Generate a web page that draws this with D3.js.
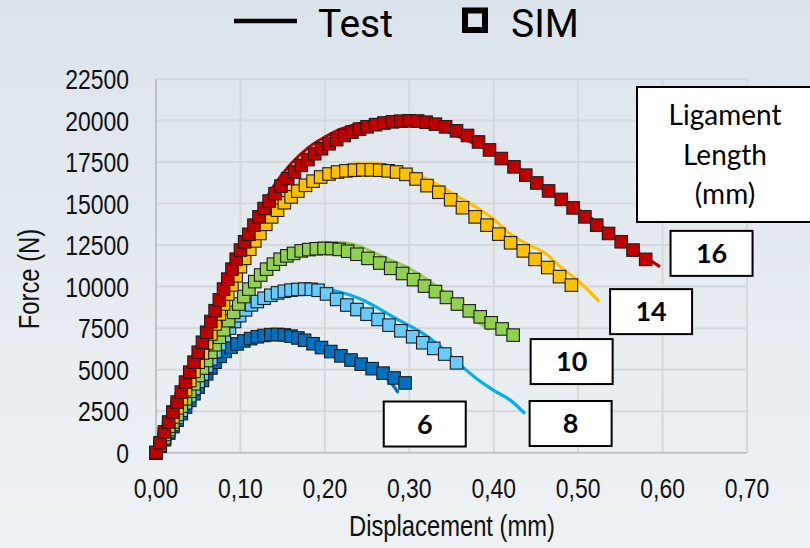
<!DOCTYPE html>
<html>
<head>
<meta charset="utf-8">
<script src="https://cdn.jsdelivr.net/npm/d3@7"></script>
<style>
  body { margin: 0; }
  svg { display: block; }
  .tick-label { font-family: 'Liberation Sans', Arial, sans-serif; font-size: 28px; fill: #111; }
  .axis-title { font-family: 'Liberation Sans', Arial, sans-serif; font-size: 29px; fill: #111; }
</style>
</head>
<body>
<div id="chart"></div>
<script>
// ticks
var xTicks = [0, 0.1, 0.2, 0.3, 0.4, 0.5, 0.6, 0.7];
var yTicks = [0, 2500, 5000, 7500, 10000, 12500, 15000, 17500, 20000, 22500];

// ligament lengths (mm), one entry per curve pair
var ligaments = ['6', '8', '10', '14', '16'];

// Test curves: [displacement (mm), force (N)]
var test6 = [[0,0],[0.02,1500],[0.04,3050],[0.06,4550],[0.08,5750],[0.10,6500],[0.12,6950],[0.14,7150],[0.16,7050],[0.18,6700],[0.20,6250],[0.22,5800],[0.24,5350],[0.26,4950],[0.27,4650],[0.28,4100],[0.287,3600]];
var test8 = [[0,0],[0.02,1700],[0.04,3450],[0.06,5100],[0.08,6700],[0.10,8000],[0.12,8950],[0.14,9500],[0.16,9800],[0.18,9900],[0.20,9850],[0.22,9650],[0.24,9300],[0.26,8800],[0.28,8200],[0.30,7650],[0.32,7050],[0.34,6250],[0.36,5300],[0.38,4450],[0.40,3750],[0.42,3150],[0.437,2350]];
var test10 = [[0,0],[0.02,1950],[0.04,3800],[0.06,5700],[0.08,7500],[0.10,9100],[0.12,10400],[0.14,11350],[0.16,12000],[0.18,12450],[0.20,12650],[0.22,12650],[0.24,12450],[0.26,12000],[0.28,11550],[0.30,11100],[0.32,10450],[0.34,9750],[0.36,8900],[0.38,7950],[0.395,7400]];
var test14 = [[0,0],[0.02,2250],[0.04,4600],[0.06,6950],[0.08,9200],[0.10,11400],[0.12,13400],[0.14,15000],[0.16,15900],[0.18,16500],[0.20,16950],[0.22,17250],[0.24,17400],[0.26,17400],[0.28,17250],[0.30,16950],[0.32,16500],[0.34,15950],[0.36,15350],[0.38,14750],[0.40,14050],[0.42,13150],[0.44,12550],[0.46,12050],[0.48,11150],[0.50,10350],[0.525,9100]];
var test16 = [[0,0],[0.02,2450],[0.04,4900],[0.06,7350],[0.08,9800],[0.10,12150],[0.12,14300],[0.14,16100],[0.16,17400],[0.18,18350],[0.20,19000],[0.22,19500],[0.24,19800],[0.26,20000],[0.28,20080],[0.30,20050],[0.32,19850],[0.34,19450],[0.36,19000],[0.38,18550],[0.40,18050],[0.42,17400],[0.44,16700],[0.46,15950],[0.48,15300],[0.50,14650],[0.52,13950],[0.54,13150],[0.56,12350],[0.58,11750],[0.597,11200]];

// SIM curves: [displacement (mm), force (N)]
var sim6 = [[0,0],[0.005,390],[0.010,780],[0.015,1180],[0.020,1570],[0.025,1960],[0.030,2350],[0.035,2750],[0.040,3150],[0.045,3550],[0.050,3950],[0.055,4350],[0.060,4750],[0.065,5100],[0.070,5450],[0.076,5800],[0.082,6100],[0.089,6350],[0.096,6550],[0.104,6730],[0.112,6870],[0.120,6980],[0.128,7060],[0.136,7110],[0.144,7120],[0.152,7090],[0.160,7020],[0.168,6910],[0.176,6770],[0.186,6560],[0.196,6330],[0.207,6090],[0.219,5830],[0.231,5580],[0.243,5330],[0.256,5060],[0.269,4790],[0.282,4500],[0.295,4200]];
var sim8 = [[0,0],[0.005,420],[0.010,850],[0.015,1280],[0.020,1700],[0.025,2130],[0.030,2560],[0.035,3000],[0.040,3430],[0.045,3870],[0.050,4300],[0.055,4750],[0.060,5200],[0.065,5650],[0.070,6100],[0.075,6550],[0.081,7050],[0.087,7500],[0.093,7900],[0.099,8250],[0.106,8600],[0.113,8900],[0.120,9100],[0.128,9300],[0.136,9480],[0.144,9620],[0.152,9720],[0.160,9790],[0.168,9830],[0.176,9850],[0.184,9840],[0.192,9780],[0.202,9560],[0.214,9230],[0.226,8890],[0.238,8620],[0.250,8340],[0.263,8020],[0.276,7680],[0.290,7340],[0.304,6980],[0.316,6620],[0.329,6280],[0.342,5940],[0.356,5410]];
var sim10 = [[0,0],[0.005,450],[0.010,900],[0.015,1400],[0.020,1850],[0.025,2300],[0.030,2800],[0.035,3250],[0.040,3700],[0.045,4150],[0.050,4650],[0.055,5100],[0.060,5550],[0.065,6050],[0.070,6500],[0.075,6950],[0.080,7400],[0.086,7950],[0.092,8450],[0.098,8950],[0.104,9400],[0.110,9850],[0.117,10300],[0.124,10700],[0.131,11050],[0.139,11350],[0.147,11650],[0.155,11850],[0.163,12000],[0.172,12150],[0.181,12230],[0.190,12280],[0.199,12300],[0.208,12290],[0.217,12240],[0.227,12130],[0.238,11950],[0.251,11700],[0.265,11420],[0.278,11100],[0.292,10790],[0.305,10420],[0.318,10030],[0.331,9700],[0.344,9350],[0.357,8950],[0.371,8540],[0.384,8180],[0.397,7820],[0.410,7450],[0.423,7080]];
var sim14 = [[0,0],[0.005,550],[0.010,1100],[0.015,1600],[0.020,2150],[0.025,2700],[0.030,3250],[0.035,3800],[0.040,4350],[0.045,4900],[0.050,5450],[0.055,6000],[0.060,6600],[0.065,7150],[0.070,7750],[0.075,8350],[0.080,8950],[0.085,9550],[0.090,10100],[0.095,10650],[0.100,11200],[0.105,11700],[0.111,12250],[0.117,12750],[0.123,13200],[0.130,13750],[0.137,14200],[0.144,14600],[0.152,15050],[0.160,15400],[0.168,15750],[0.177,16100],[0.186,16350],[0.195,16600],[0.205,16780],[0.215,16900],[0.225,16970],[0.235,17010],[0.245,17030],[0.255,17030],[0.265,17010],[0.275,16970],[0.285,16900],[0.296,16760],[0.308,16480],[0.321,16080],[0.335,15680],[0.349,15230],[0.363,14750],[0.378,14200],[0.392,13700],[0.406,13160],[0.420,12640],[0.435,12150],[0.449,11640],[0.464,11150],[0.478,10600],[0.492,10090]];
var sim16 = [[0,0],[0.005,600],[0.010,1250],[0.015,1850],[0.020,2450],[0.025,3050],[0.030,3650],[0.035,4250],[0.040,4850],[0.045,5450],[0.050,6050],[0.055,6650],[0.060,7250],[0.065,7900],[0.070,8550],[0.075,9200],[0.080,9850],[0.085,10450],[0.090,11050],[0.095,11650],[0.100,12200],[0.105,12700],[0.110,13150],[0.116,13700],[0.122,14200],[0.128,14700],[0.134,15150],[0.141,15600],[0.148,16050],[0.156,16500],[0.164,16900],[0.172,17300],[0.180,17650],[0.188,18000],[0.196,18300],[0.205,18600],[0.214,18850],[0.223,19100],[0.232,19300],[0.241,19480],[0.250,19620],[0.260,19750],[0.270,19850],[0.280,19920],[0.290,19960],[0.300,19980],[0.310,19970],[0.320,19900],[0.331,19780],[0.343,19620],[0.356,19380],[0.369,19100],[0.382,18710],[0.395,18230],[0.409,17710],[0.424,17210],[0.438,16710],[0.451,16240],[0.465,15760],[0.480,15250],[0.494,14740],[0.508,14200],[0.522,13700],[0.536,13200],[0.551,12700],[0.565,12200],[0.580,11640]];

// label box anchors [displacement, force] for each ligament tag
var tagAnchors = [[0.3183,1727],[0.4911,1757],[0.4923,5487],[0.5864,8494],[0.6580,12001]];

var testData = [test6, test8, test10, test14, test16];
var simData = [sim6, sim8, sim10, sim14, sim16];
var lineColors = ['#0070C0', '#00B0F0', '#92D050', '#FFC000', '#C00000'];
var markColors = ['#0070C0', '#66CCFF', '#92D050', '#FFC000', '#C00000'];

var width = 810;
var height = 548;
var margin = { left: 156, right: 63, top: 79, bottom: 95 };
var narrow = 0.82; // the source uses a condensed face

var svg = d3.select('#chart')
    .append('svg')
    .attr('width', width)
    .attr('height', height);

// background
var defs = svg.append('defs');
var grad = defs.append('linearGradient')
    .attr('id', 'bg')
    .attr('x1', 0).attr('y1', 0).attr('x2', 0).attr('y2', 1);
grad.append('stop').attr('offset', '0%').attr('stop-color', '#dbe4eb');
grad.append('stop').attr('offset', '100%').attr('stop-color', '#eef2f5');

svg.append('rect')
    .attr('width', width)
    .attr('height', height)
    .attr('fill', 'url(#bg)');

var x = d3.scaleLinear()
    .domain([0, 0.7])
    .range([margin.left, width - margin.right]);

var y = d3.scaleLinear()
    .domain([0, 22500])
    .range([height - margin.bottom - 0.3, margin.top]);

var fmt = d3.formatLocale({ decimal: ',', thousands: '.', grouping: [3], currency: ['', ''] }).format('.2f');

// gridlines
svg.append('g').selectAll('line')
    .data(xTicks.slice(1))
    .enter()
    .append('line')
    .attr('x1', function(d) { return x(d); })
    .attr('x2', function(d) { return x(d); })
    .attr('y1', y(0))
    .attr('y2', y(22500))
    .attr('stroke', '#d5d8db')
    .attr('stroke-width', 2);

svg.append('g').selectAll('line')
    .data(yTicks.slice(1))
    .enter()
    .append('line')
    .attr('x1', x(0))
    .attr('x2', x(0.7))
    .attr('y1', function(d) { return y(d); })
    .attr('y2', function(d) { return y(d); })
    .attr('stroke', '#d5d8db')
    .attr('stroke-width', 2);

// axis lines
svg.append('line')
    .attr('x1', x(0)).attr('x2', x(0))
    .attr('y1', y(0)).attr('y2', y(22500))
    .attr('stroke', '#bfc3c6').attr('stroke-width', 2);
svg.append('line')
    .attr('x1', x(0)).attr('x2', x(0.7))
    .attr('y1', y(0)).attr('y2', y(0))
    .attr('stroke', '#bfc3c6').attr('stroke-width', 2);

// tick labels (squeezed horizontally)
svg.append('g').selectAll('text')
    .data(yTicks)
    .enter()
    .append('text')
    .attr('class', 'tick-label')
    .attr('transform', function(d) {
        return 'translate(' + (x(0) - 27) + ',' + y(d) + ') scale(' + narrow + ',1)';
    })
    .attr('dy', '0.36em')
    .attr('text-anchor', 'end')
    .text(function(d) { return d; });

svg.append('g').selectAll('text')
    .data(xTicks)
    .enter()
    .append('text')
    .attr('class', 'tick-label')
    .attr('transform', function(d) {
        return 'translate(' + x(d) + ',' + (y(0) + 45) + ') scale(' + narrow + ',1)';
    })
    .attr('text-anchor', 'middle')
    .text(function(d) { return fmt(d); });

// axis titles
svg.append('text')
    .attr('class', 'axis-title')
    .attr('transform', 'translate(39,279) rotate(-90) scale(' + narrow + ',1)')
    .attr('text-anchor', 'middle')
    .text('Force (N)');

svg.append('text')
    .attr('class', 'axis-title')
    .attr('transform', 'translate(452,536) scale(' + narrow + ',1)')
    .attr('text-anchor', 'middle')
    .text('Displacement (mm)');

// test curves (lines) first, then SIM markers on top
var line = d3.line()
    .x(function(d) { return x(d[0]); })
    .y(function(d) { return y(d[1]); })
    .curve(d3.curveMonotoneX);

svg.append('g').selectAll('path')
    .data(testData)
    .enter()
    .append('path')
    .attr('d', line)
    .attr('fill', 'none')
    .attr('stroke', function(d, i) { return lineColors[i]; })
    .attr('stroke-width', 3.2)
    .attr('stroke-linejoin', 'round');

var sq = 12.5;
simData.forEach(function(series, i) {
    svg.append('g').selectAll('rect')
        .data(series)
        .enter()
        .append('rect')
        .attr('x', function(d) { return x(d[0]) - sq / 2; })
        .attr('y', function(d) { return y(d[1]) - sq / 2; })
        .attr('width', sq)
        .attr('height', sq)
        .attr('fill', markColors[i])
        .attr('stroke', '#1b1b1b')
        .attr('stroke-width', 1.1);
});

// ligament tags
var tags = svg.append('g').selectAll('g')
    .data(ligaments)
    .enter()
    .append('g')
    .attr('transform', function(d, i) {
        return 'translate(' + x(tagAnchors[i][0]) + ',' + y(tagAnchors[i][1]) + ')';
    });

tags.append('rect')
    .attr('x', -41).attr('y', -22.5)
    .attr('width', 82).attr('height', 45)
    .attr('fill', '#fff')
    .attr('stroke', '#000')
    .attr('stroke-width', 2);

tags.append('text')
    .attr('text-anchor', 'middle')
    .attr('dy', '0.36em')
    .style('font-family', 'Lato, sans-serif')
    .style('font-weight', 'bold')
    .style('font-size', '27px')
    .text(function(d) { return d; });

// "Ligament Length (mm)" box
svg.append('rect')
    .attr('x', 637).attr('y', 87)
    .attr('width', 180).attr('height', 135)
    .attr('fill', '#fff')
    .attr('stroke', '#000')
    .attr('stroke-width', 2);

svg.append('g').selectAll('text')
    .data(['Ligament', 'Length', '(mm)'])
    .enter()
    .append('text')
    .attr('x', 725)
    .attr('y', function(d, i) { return 125 + i * 39.5; })
    .attr('text-anchor', 'middle')
    .style('font-family', 'Lato, sans-serif')
    .style('font-size', '28px')
    .text(function(d) { return d; });

// legend
var legend = svg.append('g');
legend.append('line')
    .attr('x1', 234).attr('x2', 297)
    .attr('y1', 21).attr('y2', 21)
    .attr('stroke', '#000').attr('stroke-width', 4.5);
legend.append('text')
    .attr('x', 318).attr('y', 37)
    .style('font-family', 'Roboto, sans-serif')
    .style('font-size', '39px')
    .text('Test');
legend.append('rect')
    .attr('x', 465).attr('y', 10.5)
    .attr('width', 20).attr('height', 19.5)
    .attr('fill', 'none')
    .attr('stroke', '#000').attr('stroke-width', 6);
legend.append('text')
    .attr('x', 511).attr('y', 37)
    .style('font-family', 'Roboto, sans-serif')
    .style('font-size', '39px')
    .text('SIM');
</script>
</body>
</html>
